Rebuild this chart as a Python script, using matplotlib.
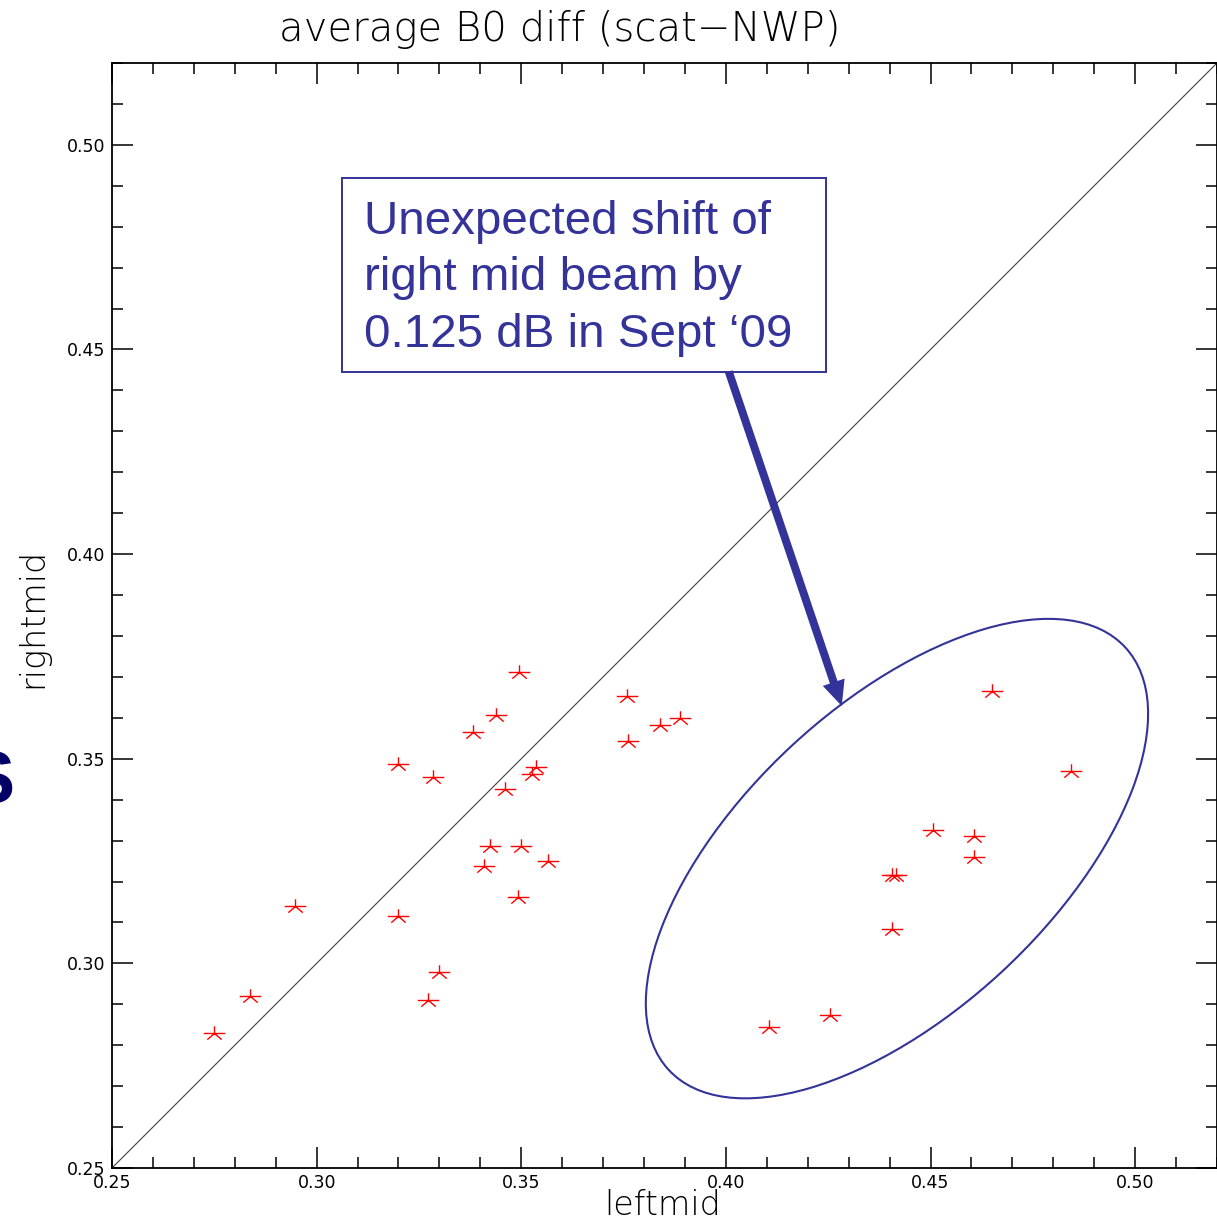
import numpy as np
import matplotlib
matplotlib.use("Agg")
import matplotlib.pyplot as plt
from matplotlib.patches import Ellipse, Rectangle, FancyArrowPatch
from matplotlib.path import Path
from matplotlib.ticker import FixedLocator, FixedFormatter, MultipleLocator

# average B0 diff per beam pair, one star per period
leftmid = [0.2749, 0.2837, 0.2946, 0.3198, 0.3198, 0.3285, 0.3300, 0.3271,
           0.3383, 0.3439, 0.3495, 0.3461, 0.3424, 0.3410, 0.3500, 0.3493,
           0.3537, 0.3527, 0.3566, 0.3759, 0.3761, 0.3839, 0.3888,
           0.4105, 0.4254, 0.4407, 0.4415, 0.4405, 0.4505, 0.4607, 0.4607,
           0.4651, 0.4844]
rightmid = [0.2829, 0.2920, 0.3139, 0.3488, 0.3115, 0.3456, 0.2980, 0.2910,
            0.3566, 0.3607, 0.3712, 0.3427, 0.3288, 0.3237, 0.3288, 0.3163,
            0.3480, 0.3463, 0.3249, 0.3654, 0.3544, 0.3583, 0.3600,
            0.2844, 0.2873, 0.3217, 0.3217, 0.3085, 0.3327, 0.3312, 0.3261,
            0.3666, 0.3471]

ticks = [0.25, 0.30, 0.35, 0.40, 0.45, 0.50]
tick_labels = ["0.25", "0.30", "0.35", "0.40", "0.45", "0.50"]
lim = (0.25, 0.52)

note_lines = ["Unexpected shift of", "right mid beam by", "0.125 dB in Sept \u201809"]

W, H = 1217, 1222
navy = "#333399"

# IDL-style asterisk: up arm, two horizontal arms, two down diagonals
star = Path([(0, 0), (0, 0.67), (0, 0), (1, 0), (0, 0), (-1, 0),
             (0, 0), (0.67, -0.57), (0, 0), (-0.67, -0.57)],
            [Path.MOVETO, Path.LINETO] * 5)

fig = plt.figure(figsize=(W / 100, H / 100), dpi=100)
ax = fig.add_axes([112 / W, (H - 1168) / H, 1105 / W, 1105 / H])

ax.plot(lim, lim, color="#404040", lw=0.8)
ax.plot(leftmid, rightmid, ls="none", marker=star, ms=15.5, mew=1.0,
        mec="red", mfc="none")

ax.set_xlim(lim)
ax.set_ylim(lim)
for axis in (ax.xaxis, ax.yaxis):
    axis.set_major_locator(FixedLocator(ticks))
    axis.set_major_formatter(FixedFormatter(tick_labels))
    axis.set_minor_locator(MultipleLocator(0.01))
ax.tick_params(which="both", direction="in", top=True, right=True,
               width=1.1, labelsize=12.5)
ax.tick_params(which="major", length=15)
ax.tick_params(which="minor", length=8)
ax.tick_params(axis="x", pad=4)
ax.tick_params(axis="y", pad=5)
for s in ax.spines.values():
    s.set_linewidth(1.3)

# highlighted cluster
ax.add_patch(Ellipse((0.4418, 0.3256), 0.152, 0.0754, angle=42.8,
                     fill=False, ec=navy, lw=1.5))

# annotation box and arrow
ax.add_patch(Rectangle((0.3063, 0.4446), 0.4244 - 0.3063, 0.4920 - 0.4446,
                       fc="white", ec=navy, lw=1.4, zorder=3))
for line, yb in zip(note_lines, [0.4783, 0.4646, 0.4507]):
    ax.text(0.3115, yb, line, family="Liberation Sans", fontsize=34.2,
            color=navy, va="baseline", ha="left", zorder=4)
ax.add_patch(FancyArrowPatch((0.4007, 0.4446), (0.4283, 0.3629),
                             arrowstyle="simple,head_length=1.0,head_width=0.92,tail_width=0.32",
                             mutation_scale=18, color=navy, lw=0,
                             shrinkA=0, shrinkB=0, zorder=3))

fig.text(559.5 / W, 1 - 41 / H, "average B0 diff (scat\u2212NWP)", fontsize=29,
         ha="center", va="baseline", fontweight=200)
fig.text(663 / W, 0.0, "leftmid", fontsize=24, ha="center",
         va="bottom", fontweight=200)
fig.text(33 / W, 1 - 618 / H, "rightmid", fontsize=24, rotation=90,
         ha="center", va="center", fontweight=200)

# edge of slide lettering cut off at the left
fig.text(15 / W, 1 - 803 / H, "S", family="Liberation Sans", fontweight="bold",
         fontsize=53, color="#000066", ha="right", va="baseline")

fig.savefig("out.png", dpi=100)
